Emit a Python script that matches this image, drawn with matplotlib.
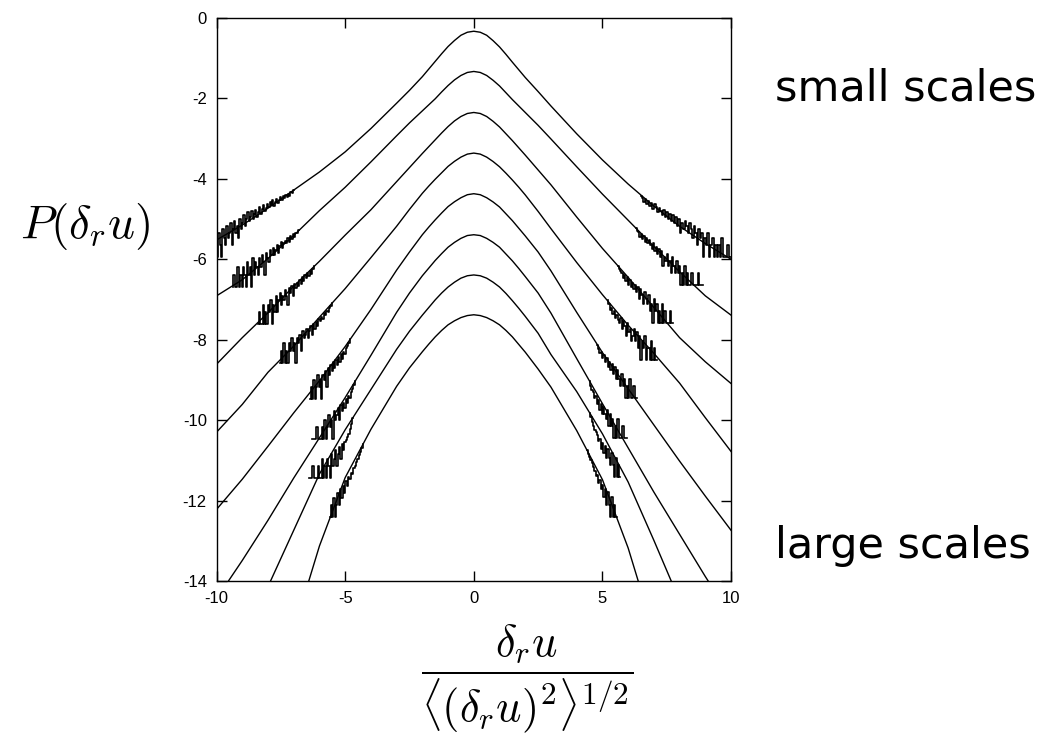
import numpy as np
import matplotlib.pyplot as plt

plt.rcParams['mathtext.fontset'] = 'cm'
plt.rcParams['axes.unicode_minus'] = False

# ---------------------------------------------------------------------------
# Fitted curves (log10 P, shifted by one decade each)
# ---------------------------------------------------------------------------
fit_x = [-10, -9, -8, -7, -6, -5, -4, -3, -2.5, -2, -1.75, -1.5, -1.25, -1, -0.75, -0.5, -0.25, 0,
         0.25, 0.5, 0.75, 1, 1.25, 1.5, 1.75, 2, 2.5, 3, 4, 5, 6, 7, 8, 9, 10]

fit_y = [
    [-5.52, -5.15, -4.73, -4.28, -3.83, -3.33, -2.75, -2.12, -1.80, -1.46, -1.27, -1.08, -0.89, -0.71, -0.56, -0.43, -0.355, -0.33,
     -0.355, -0.43, -0.565, -0.72, -0.905, -1.10, -1.29, -1.48, -1.83, -2.19, -2.88, -3.53, -4.13, -4.68, -5.18, -5.61, -6.00],
    [-6.91, -6.51, -5.98, -5.41, -4.79, -4.21, -3.58, -2.93, -2.61, -2.31, -2.16, -2.01, -1.84, -1.68, -1.54, -1.43, -1.355, -1.33,
     -1.355, -1.43, -1.55, -1.69, -1.86, -2.03, -2.19, -2.35, -2.67, -3.01, -3.70, -4.38, -5.03, -5.68, -6.31, -6.91, -7.39],
    [-8.61, -7.95, -7.33, -6.67, -6.05, -5.40, -4.77, -4.07, -3.72, -3.37, -3.20, -3.03, -2.86, -2.70, -2.56, -2.45, -2.375, -2.35,
     -2.375, -2.45, -2.57, -2.71, -2.88, -3.05, -3.23, -3.41, -3.78, -4.15, -4.95, -5.73, -6.45, -7.20, -7.95, -8.55, -9.09],
    [-10.30, -9.61, -8.81, -8.16, -7.44, -6.73, -5.96, -5.18, -4.76, -4.36, -4.18, -4.01, -3.85, -3.69, -3.565, -3.46, -3.385, -3.36,
     -3.385, -3.46, -3.57, -3.70, -3.86, -4.03, -4.21, -4.40, -4.81, -5.24, -6.08, -6.88, -7.64, -8.34, -9.08, -9.94, -10.78],
    [-12.22, -11.47, -10.65, -9.82, -9.02, -8.17, -7.25, -6.27, -5.82, -5.39, -5.20, -5.02, -4.85, -4.69, -4.57, -4.47, -4.395, -4.37,
     -4.395, -4.47, -4.575, -4.70, -4.87, -5.04, -5.23, -5.42, -5.82, -6.29, -7.32, -8.32, -9.22, -10.12, -11.02, -11.89, -12.74],
    [-14.44, -13.49, -12.49, -11.44, -10.44, -9.44, -8.39, -7.32, -6.84, -6.41, -6.22, -6.03, -5.86, -5.70, -5.58, -5.48, -5.41, -5.39,
     -5.41, -5.48, -5.58, -5.70, -5.87, -6.04, -6.23, -6.43, -6.84, -7.34, -8.47, -9.59, -10.69, -11.79, -12.84, -13.89, -14.89],
    [-16.89, -15.49, -14.14, -12.74, -11.34, -10.24, -9.24, -8.24, -7.79, -7.39, -7.20, -7.01, -6.84, -6.69, -6.57, -6.47, -6.41, -6.39,
     -6.41, -6.47, -6.57, -6.69, -6.85, -7.03, -7.22, -7.42, -7.84, -8.37, -9.29, -10.34, -11.54, -12.99, -14.49, -15.89, -17.39],
    [-21.88, -19.58, -17.38, -15.23, -13.13, -11.43, -10.23, -9.16, -8.70, -8.30, -8.11, -7.93, -7.77, -7.63, -7.53, -7.45, -7.40, -7.38,
     -7.40, -7.45, -7.53, -7.63, -7.77, -7.93, -8.12, -8.31, -8.73, -9.18, -10.26, -11.48, -13.18, -15.28, -17.38, -19.58, -21.88],
]

# ---------------------------------------------------------------------------
# Noisy histogram tails: one-count level, outer / inner bin centre, counts
# ---------------------------------------------------------------------------
floor_left = [-5.95, -6.68, -7.62, -8.57, -9.47, -10.48, -11.45, -12.42]
floor_right = [-5.95, -6.64, -7.59, -8.50, -9.45, -10.45, -11.42, -12.40]

left_outer = [-10.0, -9.37, -8.39, -7.53, -6.36, -6.30, -6.40, -5.59]
left_inner = [-7.0, -6.8, -6.2, -5.5, -4.8, -4.6, -4.7, -4.3]
right_outer = [10.0, 8.90, 7.75, 7.12, 6.34, 5.95, 5.68, 5.57]
right_inner = [6.5, 6.3, 5.6, 5.2, 4.8, 4.5, 4.5, 4.4]

left_counts = [
    [3, 1, 4, 2, 1, 5, 3, 2, 6, 3, 4, 7, 2, 5, 8, 4, 6, 3, 9, 5,
     7, 11, 6, 9, 13, 8, 10, 14, 9, 12, 15, 10, 13, 18, 12, 16, 20, 14, 17, 21,
     18, 24, 20, 26, 19, 23, 28, 22, 27, 31, 26, 33, 29, 35, 31, 38, 34, 41, 39, 46],
    [1, 2, 1, 1, 3, 1, 2, 1, 3, 2, 1, 4, 2, 3, 1, 5, 2, 4, 3, 2,
     5, 3, 6, 4, 2, 7, 5, 4, 8, 6, 9, 6, 8, 11, 7, 10, 13, 9, 12, 14,
     12, 16, 13, 18, 15, 20, 17, 22, 21, 25],
    [1, 2, 1, 1, 3, 1, 2, 1, 3, 2, 4, 1, 3, 2, 5, 2, 4, 6, 3, 5,
     4, 7, 5, 3, 8, 6, 9, 5, 10, 8, 11, 9, 13, 10, 15, 12, 17, 14, 19, 16,
     21, 18, 24, 28],
    [1, 2, 1, 3, 1, 2, 1, 3, 2, 4, 2, 3, 1, 4, 3, 5, 2, 6, 4, 5,
     7, 4, 6, 8, 5, 9, 7, 10, 8, 12, 11, 14, 12, 17, 15, 19, 18, 23, 25, 30],
    [1, 2, 1, 3, 1, 2, 4, 2, 3, 1, 4, 3, 5, 2, 6, 4, 7, 5, 8, 6,
     9, 7, 11, 8, 13, 10, 15, 13, 18, 21, 25, 30],
    [1, 1, 1, 1, 2, 1, 1, 1, 2, 1, 3, 1, 2, 4, 2, 3, 1, 5, 3, 4,
     6, 3, 7, 5, 8, 6, 10, 8, 12, 11, 15, 18, 22, 29],
    [1, 1, 1, 2, 1, 1, 1, 2, 1, 1, 3, 1, 2, 1, 3, 2, 1, 4, 2, 3,
     5, 2, 4, 6, 3, 7, 5, 8, 9, 11, 13, 17, 23, 32],
    [1, 2, 1, 3, 1, 2, 4, 2, 5, 3, 6, 4, 8, 6, 10, 9, 13, 12, 17, 19,
     24, 28, 35, 43, 54, 68],
]
right_counts = [
    [1, 1, 2, 1, 1, 1, 3, 1, 2, 1, 2, 1, 3, 2, 1, 4, 2, 3, 1, 4,
     3, 5, 2, 4, 6, 3, 5, 7, 4, 6, 8, 5, 7, 4, 9, 6, 10, 7, 11, 8,
     12, 9, 13, 10, 15, 11, 14, 17, 13, 18, 21, 16, 22, 19, 25, 21, 28, 24, 30, 34],
    [1, 1, 1, 2, 1, 1, 1, 1, 2, 1, 1, 2, 1, 3, 1, 2, 1, 3, 2, 4,
     2, 3, 5, 2, 4, 3, 6, 4, 5, 3, 7, 5, 8, 6, 9, 7, 11, 8, 10, 13,
     11, 15, 12, 17, 14, 19, 16, 21, 22, 26],
    [1, 1, 2, 1, 1, 1, 2, 1, 3, 1, 2, 1, 3, 2, 4, 1, 3, 2, 5, 3,
     4, 6, 3, 5, 7, 4, 8, 6, 9, 7, 10, 8, 12, 9, 14, 11, 16, 13, 18, 20,
     22, 27],
    [1, 1, 2, 1, 3, 1, 2, 2, 1, 4, 2, 3, 1, 4, 2, 5, 3, 6, 4, 3,
     6, 5, 8, 4, 7, 9, 6, 11, 8, 10, 13, 11, 16, 14, 19, 17, 24, 30],
    [1, 1, 2, 1, 1, 3, 1, 2, 1, 3, 2, 4, 2, 3, 5, 3, 6, 4, 7, 5,
     8, 6, 10, 8, 12, 10, 14, 13, 17, 21],
    [1, 1, 1, 2, 1, 1, 1, 3, 1, 2, 1, 3, 2, 4, 2, 5, 3, 4, 6, 4,
     7, 5, 9, 7, 11, 10, 14, 16, 20, 26],
    [1, 2, 1, 3, 1, 2, 4, 2, 3, 5, 3, 6, 4, 7, 5, 9, 8, 11, 13, 15,
     19, 24, 31, 40],
    [1, 1, 2, 1, 3, 1, 2, 4, 2, 5, 3, 6, 5, 8, 7, 11, 10, 14, 17, 21,
     25, 30, 37, 45],
]

x_ticks = [-10, -5, 0, 5, 10]
y_ticks = [0, -2, -4, -6, -8, -10, -12, -14]

# ---------------------------------------------------------------------------
fig = plt.figure(figsize=(10.42, 7.36), dpi=100)
ax = fig.add_axes([0.2078, 0.2106, 0.4938, 0.765])

for k in range(len(fit_y)):
    ax.plot(fit_x, fit_y[k], color='black', lw=1.0)

    for outer, inner, fl, cnt in ((left_outer[k], left_inner[k], floor_left[k], left_counts[k]),
                                  (right_outer[k], right_inner[k], floor_right[k], right_counts[k])):
        xs = np.linspace(outer, inner, len(cnt))
        ys = fl + np.log10(np.array(cnt, dtype=float))
        ax.plot(xs, ys, color='black', lw=1.2, drawstyle='steps-mid')

ax.set_xlim(-10, 10)
ax.set_ylim(-14, 0)
ax.set_xticks(x_ticks)
ax.set_yticks(y_ticks)
ax.set_xticklabels([str(t) for t in x_ticks], family='Liberation Sans')
ax.set_yticklabels([str(t) for t in y_ticks], family='Liberation Sans')
ax.tick_params(direction='in', length=7, width=1, top=True, right=True,
               labelsize=12, pad=7)
for s in ax.spines.values():
    s.set_linewidth(1.0)

fig.text(0.0816, 0.6766, r'$P(\delta_r u)$', fontsize=34, ha='center', va='baseline')
fig.text(0.506, 0.078,
         r'$\dfrac{\delta_r u}{\langle(\delta_r u)^2\rangle^{1/2}}$',
         fontsize=32, ha='center', va='center')
fig.text(0.744, 0.864, 'small scales', fontsize=31, ha='left', va='baseline',
         family='DejaVu Sans')
fig.text(0.744, 0.242, 'large scales', fontsize=31, ha='left', va='baseline',
         family='DejaVu Sans')

fig.savefig('out.png', dpi=100)
